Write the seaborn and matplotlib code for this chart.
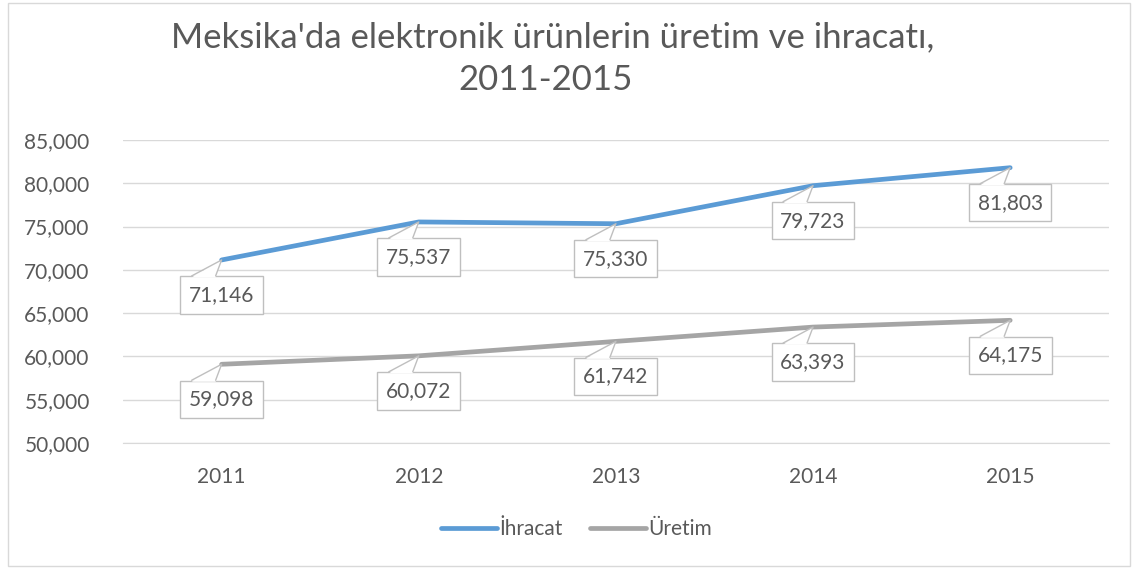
import numpy as np
import pandas as pd
import matplotlib as mpl

mpl.use('Agg')
import matplotlib.pyplot as plt
import seaborn as sns
from matplotlib.patches import Rectangle, Polygon
from matplotlib.lines import Line2D

## Data
years = ['2011', '2012', '2013', '2014', '2015']
ihracat = [71146, 75537, 75330, 79723, 81803]
uretim = [59098, 60072, 61742, 63393, 64175]
series_names = ['İhracat', 'Üretim']

df = pd.DataFrame({
    'Yıl': years * 2,
    'Değer': ihracat + uretim,
    'Seri': [series_names[0]] * 5 + [series_names[1]] * 5,
})

## Style
sns.set_style('white')
plt.rcParams['font.family'] = ['Lato', 'DejaVu Sans']
text_color = '#595959'
callout_edge = '#BFBFBF'
palette = {'İhracat': '#5B9BD5', 'Üretim': '#A5A5A5'}

fig = plt.figure(figsize=(11.33, 5.68), dpi=100)
ax = fig.add_axes([0.1086, 0.22, 0.870, 0.5335])

sns.lineplot(data=df, x='Yıl', y='Değer', hue='Seri', palette=palette,
             linewidth=3.4, ax=ax, sort=False, solid_capstyle='round')

ax.set_xlim(-0.5, 4.5)
ax.set_ylim(50000, 85000)
ax.set_yticks(np.arange(50000, 85001, 5000))
ax.yaxis.set_major_formatter(mpl.ticker.FuncFormatter(lambda v, p: f'{int(v):,}'))
ax.grid(axis='y', color='#D9D9D9', linewidth=1)
ax.set_axisbelow(True)
for s in ax.spines.values():
    s.set_visible(False)
ax.spines['bottom'].set_visible(True)
ax.spines['bottom'].set_color('#D9D9D9')
ax.tick_params(axis='both', length=0, labelsize=15, labelcolor=text_color)
ax.tick_params(axis='x', pad=17)
ax.tick_params(axis='y', pad=24)
ax.set_xlabel('')
ax.set_ylabel('')

# data label callouts (box below the point, pointer up to the point)
box_dy = 35      # px from point to box centre
box_half_h = 19  # px
for vals in (ihracat, uretim):
    for i, v in enumerate(vals):
        ax.annotate(f'{v:,}', xy=(i, v), xytext=(0, -box_dy), textcoords='offset pixels',
                    ha='center', va='center', fontsize=15, color=text_color, zorder=4,
                    bbox=dict(boxstyle='square,pad=0.42', fc='white', ec=callout_edge, lw=1))
        px, py = ax.transData.transform((i, v))
        top = py - box_dy + box_half_h
        left, right = px - 30, px - 6
        ax.add_patch(Polygon([(left, top - 1.5), (px, py), (right, top - 1.5)],
                             closed=True, transform=None, fc='white', ec='none', zorder=5))
        ax.add_line(Line2D([left, px, right], [top, py, top], transform=None,
                           color=callout_edge, lw=1, zorder=6))

# legend
leg = ax.legend(loc='upper center', bbox_to_anchor=(0.46, -0.19), ncol=2, frameon=False,
                fontsize=15, handlelength=2.7, handletextpad=0.1, columnspacing=1.3)
for t in leg.get_texts():
    t.set_color(text_color)

# title
fig.text(553 / 1133, 1 - 37 / 568, "Meksika'da elektronik ürünlerin üretim ve ihracatı,",
         ha='center', va='center', fontsize=25, color=text_color)
fig.text(546 / 1133, 1 - 80 / 568, '2011-2015',
         ha='center', va='center', fontsize=25, color=text_color)

# outer chart border
fig.patches.append(Rectangle((8 / 1133, 2 / 568), 1122 / 1133, 563 / 568,
                             transform=fig.transFigure, fill=False,
                             ec='#D9D9D9', lw=1))

fig.savefig('out.png', dpi=100)
